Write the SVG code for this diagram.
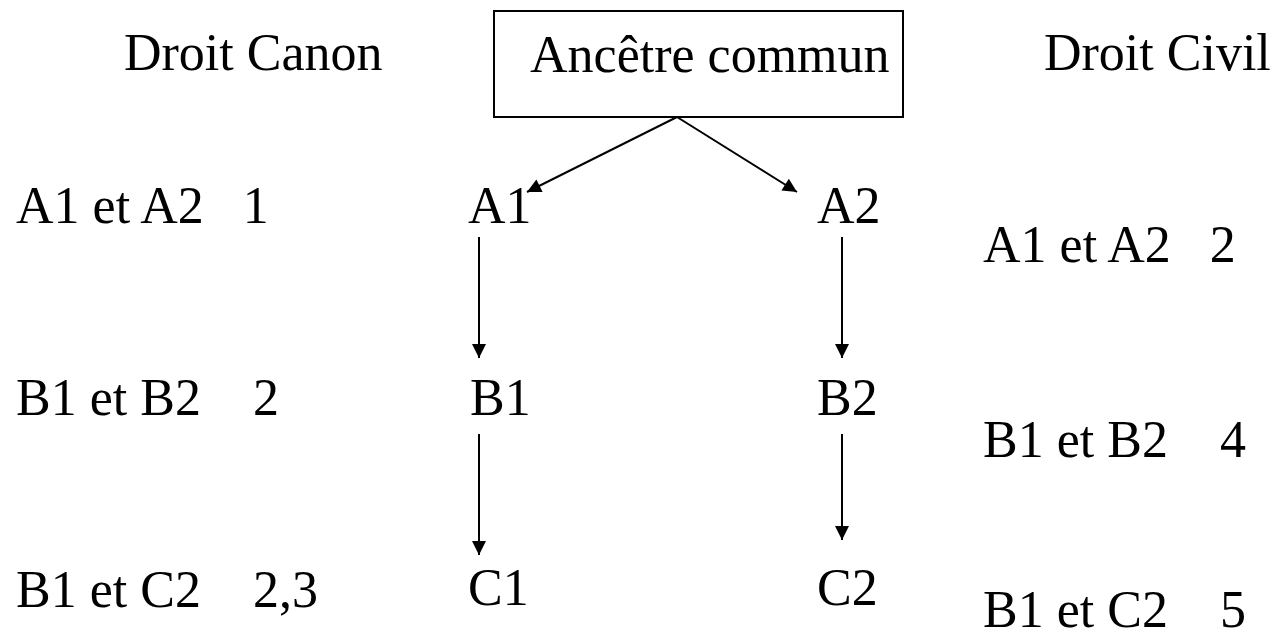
<svg xmlns="http://www.w3.org/2000/svg" width="1279" height="640" viewBox="0 0 1279 640">
  <style>
    text { font-family: "Liberation Serif", "Times New Roman", serif; font-size: 52px; fill: #000; }
    .box { fill: #fff; stroke: #000; stroke-width: 2; }
    .edge { stroke: #000; stroke-width: 2; fill: none; marker-end: url(#arrow); }
  </style>
  <defs>
    <marker id="arrow" viewBox="0 0 10 10" refX="10" refY="5" markerWidth="7.5" markerHeight="7" markerUnits="strokeWidth" orient="auto">
      <path d="M0,0 L10,5 L0,10 Z" fill="#000"/>
    </marker>
  </defs>
  <rect width="1279" height="640" fill="#fff"/>

  <!-- column headings -->
  <g id="head-canon"><text x="124" y="70">Droit Canon</text></g>
  <g id="head-civil"><text x="1044" y="70">Droit Civil</text></g>

  <!-- common ancestor -->
  <g id="ancestor">
    <rect class="box" x="494" y="11" width="409" height="106"/>
    <text x="530" y="72">Ancêtre commun</text>
  </g>

  <!-- family tree nodes -->
  <g id="node-a1"><text x="468" y="223">A1</text></g>
  <g id="node-a2"><text x="817" y="223">A2</text></g>
  <g id="node-b1"><text x="470" y="415">B1</text></g>
  <g id="node-b2"><text x="817" y="415">B2</text></g>
  <g id="node-c1"><text x="468" y="605">C1</text></g>
  <g id="node-c2"><text x="817" y="605">C2</text></g>

  <!-- degrees, canon law -->
  <g id="canon-a"><text x="16" y="223" xml:space="preserve">A1 et A2   1</text></g>
  <g id="canon-b"><text x="16" y="415" xml:space="preserve">B1 et B2    2</text></g>
  <g id="canon-c"><text x="16" y="607" xml:space="preserve">B1 et C2    2,3</text></g>

  <!-- degrees, civil law -->
  <g id="civil-a"><text x="983" y="262" xml:space="preserve">A1 et A2   2</text></g>
  <g id="civil-b"><text x="983" y="457" xml:space="preserve">B1 et B2    4</text></g>
  <g id="civil-c"><text x="983" y="627" xml:space="preserve">B1 et C2    5</text></g>

  <!-- connectors -->
  <g id="connectors">
    <line class="edge" x1="677" y1="117" x2="527" y2="192"/>
    <line class="edge" x1="677" y1="117" x2="797" y2="192"/>
    <line class="edge" x1="479" y1="237" x2="479" y2="358"/>
    <line class="edge" x1="842" y1="237" x2="842" y2="358"/>
    <line class="edge" x1="479" y1="434" x2="479" y2="555"/>
    <line class="edge" x1="842" y1="434" x2="842" y2="540"/>
  </g>
</svg>
